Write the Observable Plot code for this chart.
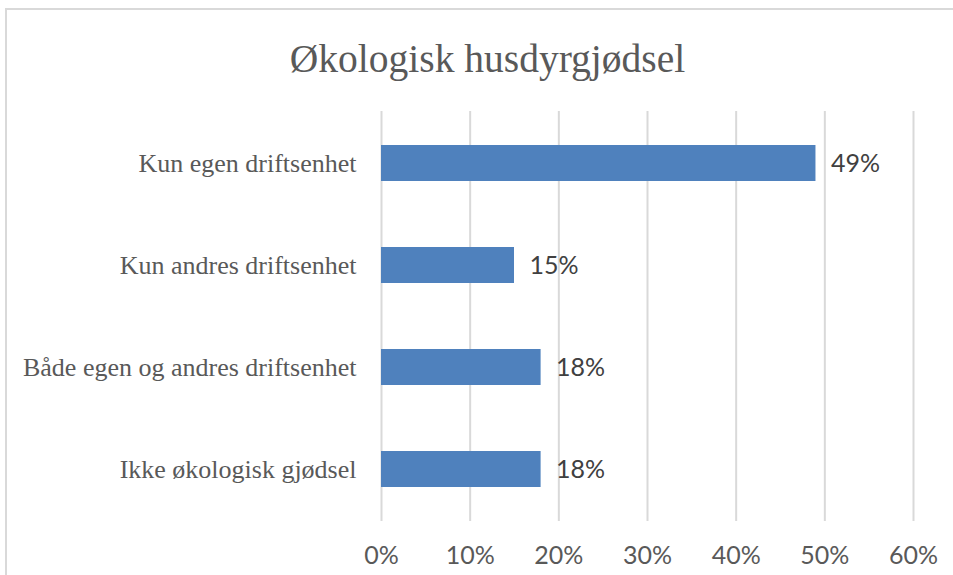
<!DOCTYPE html>
<html><head><meta charset="utf-8">
<script src="https://cdn.jsdelivr.net/npm/d3@7"></script>
<script src="https://cdn.jsdelivr.net/npm/@observablehq/plot@0.6"></script>
<style>
body{margin:0;background:#fff;}
#wrap{position:relative;width:953px;height:575px;overflow:hidden;background:#fff;}
#frame{position:absolute;left:5px;top:8px;width:962px;height:620px;border:2px solid #d9d9d9;box-sizing:border-box;}
#title{position:absolute;left:0;top:39px;width:975px;text-align:center;font-family:"Liberation Serif",serif;font-size:39.5px;line-height:40px;color:#595959;}
#chart{position:absolute;left:0;top:0;}
</style></head>
<body>
<div id="wrap">
<div id="frame"></div>
<div id="title">Økologisk husdyrgjødsel</div>
<div id="chart"></div>
</div>
<script>
const categories = ["Kun egen driftsenhet", "Kun andres driftsenhet", "Både egen og andres driftsenhet", "Ikke økologisk gjødsel"];
const values = [0.49, 0.15, 0.18, 0.18];
const xTicks = [0, 0.1, 0.2, 0.3, 0.4, 0.5, 0.6];
const tickLabels = ["0%", "10%", "20%", "30%", "40%", "50%", "60%"];

const data = categories.map((c, i) => ({category: c, value: values[i]}));
const fmt = d => tickLabels[xTicks.indexOf(d)];

const chart = Plot.plot({
  width: 953,
  height: 575,
  marginLeft: 381,
  marginRight: 40,
  marginTop: 111,
  marginBottom: 54,
  style: {fontFamily: "'Liberation Serif', serif", fontSize: "26px", color: "#595959", background: "transparent", overflow: "visible"},
  x: {domain: [0, 0.6]},
  y: {domain: categories, paddingInner: 0.65, paddingOuter: 0.32},
  marks: [
    Plot.ruleX(xTicks, {stroke: "#d9d9d9", strokeWidth: 2, strokeOpacity: 1}),
    Plot.barX(data, {x: "value", y: "category", fill: "#4f81bd"}),
    Plot.text(data, {x: "value", y: "category", text: d => Math.round(d.value * 100) + "%", textAnchor: "start", dx: 15, fill: "#404040", fontSize: 25, fontFamily: "Lato, sans-serif"}),
    Plot.axisX({ticks: xTicks, tickFormat: fmt, tickSize: 0, tickPadding: 25, label: null, fontSize: 25, fontFamily: "Lato, sans-serif", fill: "#595959"}),
    Plot.axisY({tickSize: 0, tickPadding: 25, label: null, fontSize: 26, fill: "#595959"})
  ]
});
document.getElementById("chart").appendChild(chart);
</script>
</body></html>
